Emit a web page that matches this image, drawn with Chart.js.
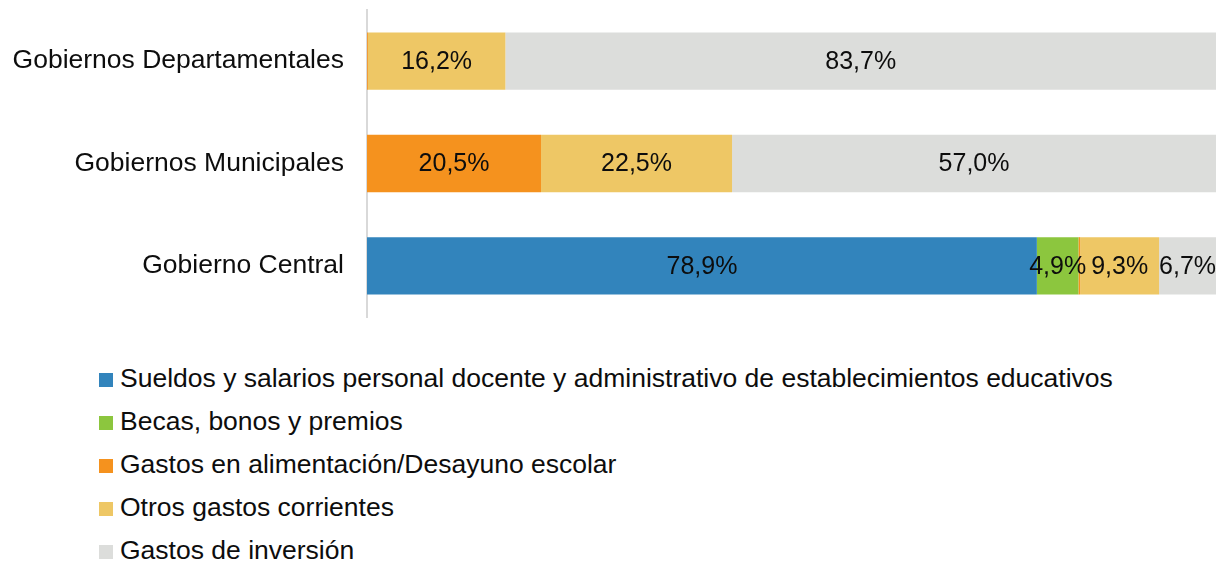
<!DOCTYPE html>
<html>
<head>
<meta charset="utf-8">
<script src="https://cdn.jsdelivr.net/npm/chart.js@4/dist/chart.umd.min.js"></script>
<style>
  body { margin: 0; background: #fff; font-family: "Liberation Sans", Arial, sans-serif; }
  #wrap { position: relative; width: 1216px; height: 562px; }
  #chartBox { position: absolute; left: 0; top: 0; width: 1216px; height: 330px; }
  #legend { position: absolute; left: 99px; top: 357px; list-style: none; margin: 0; padding: 0; }
  #legend li { height: 43px; line-height: 43px; font-size: 26.5px; color: #0d0d0d; white-space: pre; }
  #legend span.box { display: inline-block; width: 14px; height: 14px; margin-right: 7px; vertical-align: 0px; }
</style>
</head>
<body>
<div id="wrap">
  <div id="chartBox"><canvas id="gastoChart"></canvas></div>
  <ul id="legend"></ul>
</div>
<script>
document.addEventListener("DOMContentLoaded", function() {

    const categories = ['Gobiernos Departamentales', 'Gobiernos Municipales', 'Gobierno Central'];
    const seriesNames = [
        'Sueldos y salarios personal docente y administrativo de establecimientos educativos',
        'Becas, bonos y premios',
        'Gastos en alimentación/Desayuno escolar',
        'Otros gastos corrientes',
        'Gastos de inversión'
    ];
    const sueldos      = [0,    0,    78.9];
    const becas        = [0,    0,    4.9];
    const alimentacion = [0.1,  20.5, 0.2];
    const otros        = [16.2, 22.5, 9.3];
    const inversion    = [83.7, 57.0, 6.7];
    const colors = ['#3284BC', '#8CC63E', '#F5921E', '#EEC765', '#DCDDDB'];

    const seriesValues = [sueldos, becas, alimentacion, otros, inversion];

    // --- Value labels in the middle of each segment ---
    const segmentLabels = {
        id: 'segmentLabels',
        afterDatasetsDraw(chart) {
            const ctx = chart.ctx;
            ctx.save();
            ctx.font = '25px "Liberation Sans", Arial, sans-serif';
            ctx.fillStyle = '#0d0d0d';
            ctx.textAlign = 'center';
            ctx.textBaseline = 'middle';
            chart.data.datasets.forEach((ds, i) => {
                const meta = chart.getDatasetMeta(i);
                meta.data.forEach((bar, j) => {
                    const v = ds.data[j];
                    if (v < 1) return;
                    const { x, y, base } = bar.getProps(['x', 'y', 'base'], true);
                    ctx.fillText(v.toFixed(1).replace('.', ',') + '%', (x + base) / 2, y + 1);
                });
            });
            ctx.restore();
        }
    };

    const chart = new Chart(document.getElementById('gastoChart'), {
        type: 'bar',
        data: {
            labels: categories,
            datasets: seriesValues.map((vals, i) => ({
                label: seriesNames[i],
                data: vals,
                backgroundColor: colors[i],
                borderWidth: 0,
                categoryPercentage: 1,
                barPercentage: 0.56
            }))
        },
        options: {
            indexAxis: 'y',
            responsive: true,
            maintainAspectRatio: false,
            animation: false,
            layout: { padding: { top: 10, bottom: 13, left: 0, right: 0 } },
            scales: {
                x: { stacked: true, min: 0, max: 100, display: false },
                y: {
                    stacked: true,
                    grid: { display: false, drawTicks: false },
                    border: { display: true, color: '#D9D9D9', width: 2 },
                    ticks: {
                        color: '#0d0d0d',
                        padding: 23,
                        font: { family: '"Liberation Sans", Arial, sans-serif', size: 26.5 }
                    },
                    afterFit(scale) {
                        scale.width = 367;
                        scale.paddingTop = 0;
                        scale.paddingBottom = 0;
                    }
                }
            },
            plugins: {
                legend: { display: false },
                tooltip: { enabled: false }
            }
        },
        plugins: [segmentLabels]
    });

    // --- Vertical legend below the chart ---
    const legendEl = document.getElementById('legend');
    chart.options.plugins.legend.labels.generateLabels(chart).forEach(item => {
        const li = document.createElement('li');
        const box = document.createElement('span');
        box.className = 'box';
        box.style.background = item.fillStyle;
        li.appendChild(box);
        li.appendChild(document.createTextNode(item.text));
        legendEl.appendChild(li);
    });
});
</script>
</body>
</html>
